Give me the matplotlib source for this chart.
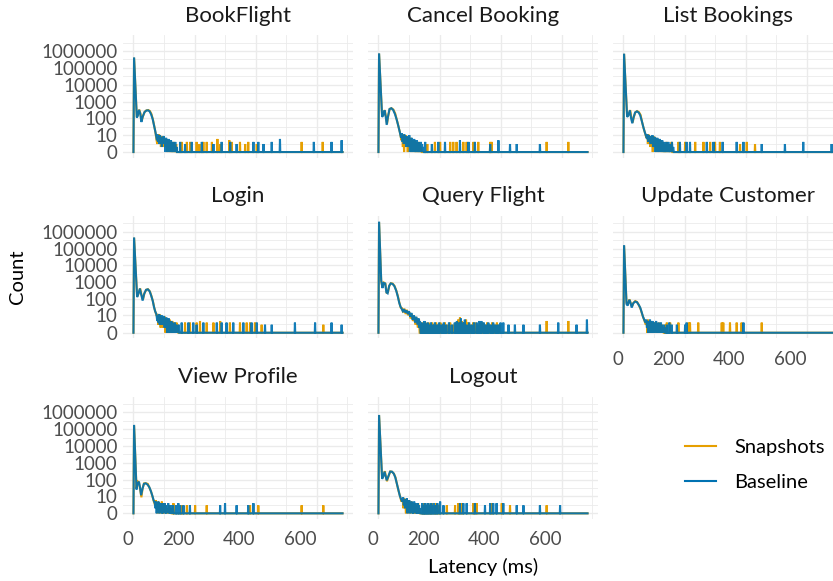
import numpy as np
import matplotlib
matplotlib.use("Agg")
import matplotlib.pyplot as plt
from matplotlib.lines import Line2D

plt.rcParams['font.family'] = ['Lato', 'DejaVu Sans']

PANELS = ["BookFlight", "Cancel Booking", "List Bookings",
          "Login", "Query Flight", "Update Customer",
          "View Profile", "Logout"]
SERIES = ["Snapshots", "Baseline"]
COLORS = {"Snapshots": "#E69F00", "Baseline": "#0072B2"}
X_TICKS = [0, 200, 400, 600]
X_MINOR = [100, 300, 500, 700]
Y_TICKS = [0, 10, 100, 1000, 10000, 100000, 1000000]
MAX_LATENCY = 685

# (latency ms, count) along the main body of each distribution
BASE_BODY = {
    "BookFlight": [(0, 0), (2, 420000), (11, 110), (14, 140), (18, 320), (22, 200), (26, 60), (30, 120), (36, 230), (42, 290), (48, 300), (53, 260), (58, 170), (63, 90), (67, 40), (71, 18), (74, 9), (77, 4), (79, 10), (81, 3), (83, 8), (85, 2), (87, 9), (89, 4), (91, 7), (93, 1), (95, 6), (97, 3), (99, 8), (101, 2), (103, 5), (105, 0), (107, 6), (109, 2), (111, 4), (113, 0), (115, 5), (117, 1), (119, 3), (121, 0), (123, 4), (125, 1), (127, 0), (129, 3), (131, 0), (133, 2), (135, 0), (137, 3), (139, 0), (141, 1), (143, 0)],
    "Cancel Booking": [(0, 0), (2, 730000), (12, 120), (16, 160), (20, 300), (24, 120), (27, 40), (31, 120), (36, 350), (42, 400), (48, 320), (54, 180), (60, 80), (65, 35), (70, 14), (74, 6), (77, 12), (79, 3), (81, 9), (83, 2), (85, 10), (87, 4), (89, 7), (91, 1), (93, 8), (95, 2), (97, 6), (99, 1), (101, 9), (103, 0), (105, 5), (107, 2), (109, 6), (111, 0), (113, 4), (115, 1), (117, 5), (119, 0), (121, 3), (123, 0), (125, 4), (127, 1), (129, 0), (131, 3), (133, 0), (135, 2), (137, 0), (139, 3), (141, 0), (143, 2), (145, 0), (147, 1), (149, 0)],
    "List Bookings": [(0, 0), (2, 700000), (12, 120), (16, 150), (21, 300), (25, 100), (29, 50), (33, 110), (38, 220), (44, 260), (50, 220), (55, 150), (60, 70), (65, 30), (70, 14), (74, 8), (77, 5), (79, 10), (81, 3), (83, 9), (85, 4), (87, 8), (89, 2), (91, 7), (93, 3), (95, 9), (97, 1), (99, 6), (101, 2), (103, 7), (105, 0), (107, 5), (109, 2), (111, 6), (113, 0), (115, 4), (117, 1), (119, 5), (121, 0), (123, 3), (125, 1), (127, 4), (129, 0), (131, 3), (133, 0), (135, 2), (137, 0), (139, 3), (141, 0), (143, 2), (145, 0), (147, 3), (149, 0), (151, 1), (153, 0), (155, 2), (157, 0), (159, 3), (161, 0), (163, 1), (165, 0)],
    "Login": [(0, 0), (2, 460000), (12, 130), (16, 200), (21, 420), (25, 200), (30, 80), (35, 200), (41, 350), (47, 380), (53, 290), (58, 160), (63, 80), (67, 35), (71, 18), (75, 12), (78, 4), (80, 10), (82, 3), (84, 12), (86, 2), (88, 8), (90, 4), (92, 10), (94, 2), (96, 6), (98, 3), (100, 9), (102, 1), (104, 5), (106, 2), (108, 7), (110, 0), (112, 4), (114, 1), (116, 6), (118, 0), (120, 3), (122, 1), (124, 4), (126, 0), (128, 3), (130, 0), (132, 2), (134, 0), (136, 3), (138, 0), (140, 2), (142, 0), (144, 1), (146, 0), (148, 2), (150, 0)],
    "Query Flight": [(0, 0), (2, 4000000), (9, 1300), (13, 450), (17, 900), (22, 850), (26, 250), (30, 220), (35, 600), (40, 850), (46, 800), (52, 600), (58, 320), (63, 150), (68, 60), (72, 35), (76, 25), (80, 18), (84, 24), (88, 15), (92, 20), (96, 12), (100, 18), (104, 8), (108, 14), (112, 5), (116, 10), (120, 3), (124, 8), (128, 2), (132, 6), (134, 1), (136, 4), (138, 0)],
    "Update Customer": [(0, 0), (2, 160000), (10, 50), (14, 40), (19, 90), (23, 60), (27, 30), (32, 55), (38, 70), (44, 65), (50, 45), (55, 30), (60, 15), (64, 8), (68, 5), (72, 3), (75, 5), (77, 1), (79, 4), (81, 0), (83, 3), (85, 1), (87, 5), (89, 0), (91, 3), (93, 1), (95, 4), (97, 0), (99, 2), (101, 0), (103, 3), (105, 1), (107, 4), (109, 0), (111, 2), (113, 0), (115, 3), (117, 0), (119, 2), (121, 0), (123, 3), (125, 0), (127, 1), (129, 0), (131, 2), (133, 0), (135, 1), (137, 0)],
    "View Profile": [(0, 0), (2, 180000), (10, 25), (14, 60), (18, 75), (22, 30), (25, 11), (29, 25), (34, 55), (40, 60), (46, 50), (52, 35), (57, 20), (62, 10), (66, 5), (70, 3), (72, 1), (74, 4), (76, 0), (78, 3), (80, 1), (82, 4), (84, 0), (86, 3), (88, 1), (90, 2), (92, 0), (94, 3), (96, 0), (98, 2), (100, 1), (102, 3), (104, 0), (106, 2), (108, 0), (110, 2), (112, 1), (114, 3), (116, 0), (118, 1), (120, 0), (122, 2), (124, 0), (126, 1), (128, 0), (130, 2), (132, 0)],
    "Logout": [(0, 0), (2, 700000), (12, 110), (16, 160), (20, 300), (24, 150), (27, 90), (32, 150), (38, 300), (44, 300), (50, 230), (55, 140), (60, 60), (65, 25), (70, 10), (74, 6), (78, 4), (81, 8), (83, 2), (85, 6), (87, 1), (89, 5), (91, 2), (93, 7), (95, 0), (97, 4), (99, 1), (101, 5), (103, 0), (105, 3), (107, 1), (109, 4), (111, 0), (113, 3), (115, 0), (117, 4), (119, 1), (121, 3), (123, 0), (125, 2), (127, 0), (129, 3), (131, 0), (133, 2), (135, 0), (137, 1), (139, 0)],
}

SNAP_BODY = {
    "BookFlight": [(0, 0), (2, 400000), (11, 120), (15, 160), (19, 330), (23, 190), (27, 70), (31, 130), (37, 250), (43, 300), (49, 310), (54, 270), (59, 180), (64, 80), (68, 35), (72, 14), (75, 5), (78, 2), (80, 7), (82, 4), (84, 10), (86, 3), (88, 6), (90, 1), (92, 8), (94, 2), (96, 5), (98, 1), (100, 7), (102, 3), (104, 4), (106, 1), (108, 5), (110, 0), (112, 3), (114, 1), (116, 4), (118, 0), (120, 2), (122, 0), (124, 3), (126, 0), (128, 2), (130, 0), (132, 3), (134, 0), (136, 1), (138, 0), (140, 2), (142, 0)],
    "Cancel Booking": [(0, 0), (2, 700000), (12, 130), (16, 180), (21, 310), (25, 110), (28, 45), (32, 140), (37, 370), (43, 400), (49, 330), (55, 190), (61, 70), (66, 30), (71, 12), (75, 4), (78, 8), (80, 1), (82, 10), (84, 0), (86, 7), (88, 3), (90, 9), (92, 2), (94, 6), (96, 0), (98, 7), (100, 3), (102, 5), (104, 1), (106, 6), (108, 0), (110, 4), (112, 2), (114, 3), (116, 0), (118, 4), (120, 1), (122, 0), (124, 3), (126, 0), (128, 2), (130, 0), (132, 3), (134, 0), (136, 2), (138, 0), (140, 1), (142, 0)],
    "List Bookings": [(0, 0), (2, 680000), (12, 130), (17, 160), (22, 310), (26, 110), (30, 55), (34, 120), (39, 230), (45, 270), (51, 230), (56, 160), (61, 60), (66, 25), (71, 12), (75, 6), (78, 9), (80, 2), (82, 10), (84, 3), (86, 7), (88, 1), (90, 8), (92, 2), (94, 6), (96, 0), (98, 8), (100, 1), (102, 5), (104, 2), (106, 6), (108, 0), (110, 4), (112, 1), (114, 5), (116, 0), (118, 3), (120, 1), (122, 4), (124, 0), (126, 2), (128, 0), (130, 3), (132, 0), (134, 2), (136, 0), (138, 1), (140, 0), (142, 3), (144, 0), (146, 2), (148, 0), (152, 2), (154, 0), (158, 3), (160, 0)],
    "Login": [(0, 0), (2, 440000), (12, 140), (17, 220), (22, 430), (26, 190), (31, 90), (36, 220), (42, 360), (48, 380), (54, 280), (59, 150), (64, 70), (68, 30), (72, 16), (76, 9), (79, 12), (81, 2), (83, 9), (85, 4), (87, 11), (89, 1), (91, 7), (93, 3), (95, 8), (97, 1), (99, 6), (101, 2), (103, 8), (105, 0), (107, 5), (109, 1), (111, 6), (113, 0), (115, 4), (117, 2), (119, 5), (121, 0), (123, 3), (125, 0), (127, 4), (129, 1), (131, 0), (133, 3), (135, 0), (137, 2), (139, 0), (141, 3), (143, 0), (145, 2), (147, 0)],
    "Query Flight": [(0, 0), (2, 3800000), (9, 1200), (13, 500), (18, 950), (23, 800), (27, 240), (31, 250), (36, 650), (41, 880), (47, 820), (53, 580), (59, 300), (64, 140), (69, 55), (73, 30), (77, 28), (81, 15), (85, 26), (89, 12), (93, 22), (97, 10), (101, 16), (105, 6), (109, 12), (113, 4), (117, 9), (121, 2), (125, 7), (129, 1), (133, 5), (135, 0)],
    "Update Customer": [(0, 0), (2, 150000), (10, 60), (14, 45), (20, 95), (24, 55), (28, 35), (33, 60), (39, 75), (45, 65), (51, 40), (56, 25), (61, 12), (65, 7), (69, 4), (73, 2), (76, 4), (78, 0), (80, 5), (82, 1), (84, 3), (86, 0), (88, 4), (90, 1), (92, 2), (94, 0), (96, 3), (98, 1), (100, 3), (102, 0), (104, 2), (106, 0), (108, 3), (110, 1), (112, 0), (114, 2), (116, 0), (118, 3), (120, 0), (122, 1), (124, 0), (126, 2), (128, 0), (130, 1), (132, 0)],
    "View Profile": [(0, 0), (2, 170000), (10, 30), (13, 80), (18, 70), (22, 25), (26, 8), (30, 30), (35, 60), (41, 60), (47, 55), (53, 30), (58, 18), (63, 8), (67, 4), (71, 2), (73, 5), (75, 1), (77, 3), (79, 0), (81, 4), (83, 1), (85, 3), (87, 0), (89, 2), (91, 1), (93, 4), (95, 0), (97, 2), (99, 0), (101, 3), (103, 1), (105, 2), (107, 0), (111, 1), (113, 0), (117, 2), (119, 0), (123, 1), (125, 0)],
    "Logout": [(0, 0), (2, 680000), (12, 120), (17, 180), (21, 320), (25, 140), (28, 80), (33, 160), (39, 310), (45, 290), (51, 220), (56, 130), (61, 50), (66, 20), (71, 9), (75, 4), (79, 6), (82, 1), (84, 7), (86, 2), (88, 5), (90, 0), (92, 6), (94, 1), (96, 4), (98, 0), (100, 5), (102, 2), (104, 3), (106, 0), (108, 4), (110, 1), (112, 3), (114, 0), (116, 2), (118, 0), (120, 3), (122, 1), (124, 0), (126, 2), (128, 0), (130, 3), (132, 0), (134, 1), (136, 0)],
}

# isolated non-zero latency bins in the tail (latency ms, count); all other bins are zero
BASE_SPIKES = {
    "BookFlight": [(153, 3), (169, 2), (191, 3), (224, 3), (262, 2), (289, 3), (317, 3), (338, 2), (393, 3), (409, 3), (426, 2), (453, 3), (480, 5), (591, 3), (649, 3), (682, 4)],
    "Cancel Booking": [(153, 3), (175, 2), (196, 3), (218, 3), (267, 4), (295, 3), (316, 3), (366, 2), (393, 4), (431, 2), (453, 2), (529, 2)],
    "List Bookings": [(185, 3), (207, 3), (218, 3), (273, 3), (295, 3), (325, 3), (371, 3), (393, 3), (453, 2), (529, 2), (589, 3), (682, 2)],
    "Login": [(158, 3), (180, 3), (196, 3), (207, 2), (229, 3), (273, 3), (289, 3), (305, 3), (327, 3), (360, 3), (387, 3), (404, 3), (431, 2), (453, 2), (529, 3), (595, 3), (649, 3), (682, 2)],
    "Query Flight": [(141, 3), (146, 2), (151, 4), (156, 2), (161, 3), (166, 2), (172, 3), (178, 2), (185, 3), (192, 2), (199, 3), (207, 2), (214, 3), (222, 2), (231, 3), (240, 2), (250, 3), (257, 4), (263, 3), (270, 6), (276, 3), (283, 5), (289, 2), (297, 3), (305, 2), (313, 3), (322, 3), (330, 4), (337, 4), (345, 3), (352, 2), (360, 3), (368, 2), (376, 3), (384, 2), (392, 2), (400, 3), (409, 3), (426, 2), (447, 2), (475, 2), (529, 2), (589, 3), (649, 2), (683, 5)],
    "Update Customer": [(142, 2), (150, 3), (158, 2), (175, 2), (202, 2), (207, 3), (393, 3)],
    "View Profile": [(140, 2), (147, 3), (153, 2), (164, 2), (185, 2), (284, 2), (300, 3), (338, 2), (376, 2), (393, 3)],
    "Logout": [(143, 3), (148, 2), (152, 3), (157, 2), (161, 3), (166, 2), (171, 3), (176, 2), (181, 3), (187, 2), (193, 3), (202, 4), (213, 2), (267, 3), (278, 3), (289, 3), (316, 3), (349, 2), (366, 3), (376, 3), (387, 3), (409, 3), (453, 2), (475, 2), (529, 2), (595, 2)],
}

SNAP_SPIKES = {
    "BookFlight": [(158, 3), (175, 3), (186, 3), (207, 3), (216, 2), (229, 3), (240, 3), (257, 3), (275, 5), (284, 2), (314, 4), (322, 3), (349, 3), (366, 2), (376, 3), (404, 2), (551, 3), (620, 3)],
    "Cancel Booking": [(160, 2), (185, 3), (202, 3), (235, 3), (245, 3), (256, 3), (278, 3), (289, 3), (311, 3), (327, 3), (366, 3), (371, 3), (551, 3), (622, 3)],
    "List Bookings": [(180, 3), (202, 3), (235, 3), (262, 3), (284, 3), (300, 3), (316, 3), (382, 2), (404, 3), (431, 2)],
    "Login": [(169, 3), (185, 3), (207, 3), (218, 4), (240, 3), (262, 3), (284, 4), (316, 3), (349, 3), (371, 3), (382, 3), (398, 3), (420, 2), (622, 2)],
    "Query Flight": [(139, 2), (144, 3), (149, 2), (154, 3), (159, 2), (164, 3), (170, 2), (176, 3), (182, 2), (189, 3), (196, 2), (203, 3), (211, 2), (218, 3), (226, 2), (235, 3), (245, 2), (254, 3), (261, 5), (267, 7), (273, 4), (280, 3), (287, 5), (294, 3), (302, 2), (310, 3), (318, 3), (326, 2), (334, 3), (341, 3), (349, 2), (356, 3), (364, 2), (372, 3), (380, 2), (388, 3), (396, 2), (551, 4), (622, 4)],
    "Update Customer": [(136, 2), (142, 3), (153, 3), (180, 3), (213, 3), (218, 3), (245, 3), (322, 3), (327, 3), (349, 3), (371, 3), (387, 3), (453, 3)],
    "View Profile": [(109, 4), (131, 3), (158, 2), (175, 2), (202, 2), (240, 2), (382, 2), (409, 2), (551, 2), (622, 2)],
    "Logout": [(145, 2), (150, 3), (155, 2), (163, 3), (169, 2), (174, 3), (184, 2), (190, 3), (198, 2), (224, 2), (251, 2), (262, 3), (273, 3), (311, 3), (322, 3), (371, 3), (404, 3), (431, 2), (551, 2)],
}


def build_series(body, spikes, end):
    """Latency histogram: body bins followed by zero bins with isolated non-zero tail bins."""
    xs = [p[0] for p in body]
    ys = [p[1] for p in body]
    for ms, c in sorted(spikes):
        if ms <= xs[-1]:
            continue
        xs += [ms - 1, ms, ms + 1]
        ys += [0, c, 0]
    if xs[-1] < end:
        xs.append(end)
        ys.append(0)
    return np.array(xs, float), np.array(ys, float)


def fwd(y):
    y = np.asarray(y, float)
    return np.log10(np.maximum(1.0 + y, 1e-12))


def inv(t):
    return np.power(10.0, np.asarray(t, float)) - 1.0


W, H = 833, 581
fig = plt.figure(figsize=(W / 100, H / 100), dpi=100)

COL_LEFT = [123, 368, 613]
ROW_TOP = [35.4, 216.1, 396.7]
PW, PH = 230, 122.2
GRID = "#EBEBEB"
TICK_COLOR = "#4D4D4D"
FS = 13.5

for i, name in enumerate(PANELS):
    r, c = divmod(i, 3)
    left = COL_LEFT[c] / W
    bottom = 1 - (ROW_TOP[r] + PH) / H
    ax = fig.add_axes([left, bottom, PW / W, PH / H])
    ax.set_yscale('function', functions=(fwd, inv))
    for s, body, spikes in (("Snapshots", SNAP_BODY, SNAP_SPIKES),
                            ("Baseline", BASE_BODY, BASE_SPIKES)):
        x, y = build_series(body[name], spikes[name], MAX_LATENCY)
        ax.plot(x, y, color=COLORS[s], lw=1.5, alpha=0.92 if s == "Baseline" else 1.0,
                solid_joinstyle='miter')
    ax.set_xlim(-34.25, 719.25)
    ax.set_ylim(inv(-0.33), inv(6.93))
    ax.set_yticks(Y_TICKS)
    ax.set_yticks(inv(np.arange(0.5, 7.0, 1.0)), minor=True)
    ax.set_xticks(X_MINOR, minor=True)
    show_x = (r == 2) or (r == 1 and c == 2)
    if show_x:
        ax.set_xticks(X_TICKS, labels=[str(t) for t in X_TICKS], ha='right')
    else:
        ax.set_xticks(X_TICKS, labels=[])
    if c == 0:
        ax.set_yticklabels([str(t) for t in Y_TICKS])
    else:
        ax.set_yticklabels([])
    ax.yaxis.set_minor_formatter(plt.NullFormatter())
    ax.tick_params(which='both', length=0, labelsize=FS, labelcolor=TICK_COLOR)
    ax.tick_params(axis='y', pad=4)
    ax.tick_params(axis='x', pad=9)
    ax.grid(which='major', color=GRID, lw=1.0)
    ax.grid(which='minor', color=GRID, lw=0.6)
    ax.set_axisbelow(True)
    for sp in ax.spines.values():
        sp.set_visible(False)
    ax.set_title(name, fontsize=16, color="#1A1A1A", pad=9.9)

fig.text(17 / W, 1 - 277 / H, "Count", rotation=90, ha='center', va='center', fontsize=14.5, color='black')
fig.text(483 / W, 1 - 567 / H, "Latency (ms)", ha='center', va='center', fontsize=14.5, color='black')

handles = [Line2D([], [], color=COLORS[s], lw=1.5) for s in SERIES]
fig.legend(handles, SERIES, loc='center left', bbox_to_anchor=(685 / W, 1 - 465 / H),
           frameon=False, fontsize=14.5, handlelength=1.55, handletextpad=0.9,
           labelspacing=0.85, borderpad=0, borderaxespad=0)

fig.savefig("out.png", dpi=100)
